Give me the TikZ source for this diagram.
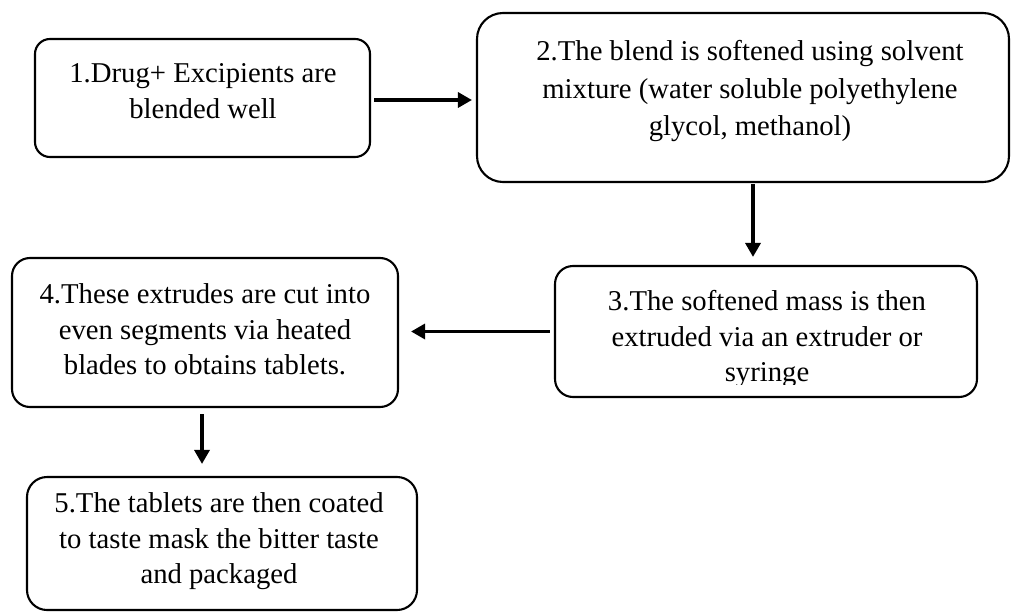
\documentclass[tikz,border=0pt]{standalone}
\usepackage{fontspec}
\setmainfont{Liberation Serif}
\usetikzlibrary{arrows.meta,calc}
\begin{document}
\begin{tikzpicture}[x=1pt,y=-1pt,
  box/.style={draw=black,line width=2.1pt,fill=none,inner sep=0pt,
    minimum width=#1},
  txt/.style={anchor=north,align=center,inner sep=0pt,
    font=\fontsize{28.7}{35.5}\selectfont},
  arr/.style={draw=black,line width=3.3pt,
    -{Triangle[length=14pt,width=15pt]}}
]
\useasboundingbox[fill=white] (0,0) rectangle (1011,615);
% boxes
\node[box=335pt,minimum height=118pt,rounded corners=15pt] (b1) at (202.5,98) {};
\node[box=532pt,minimum height=169pt,rounded corners=26pt] (b2) at (743,97.5) {};
\node[box=422pt,minimum height=131pt,rounded corners=18pt] (b3) at (766,331.5) {};
\node[box=386pt,minimum height=149pt,rounded corners=18pt] (b4) at (205,332.5) {};
\node[box=390pt,minimum height=133pt,rounded corners=20pt] (b5) at (222,543.5) {};
% texts
\node[txt] (t1) at (203,63.5) {1.Drug+ Excipients are\\blended well};
\node[txt,font=\fontsize{28.7}{37.5}\selectfont] (t2) at (750,40.5)
  {2.The blend is softened using solvent\\mixture (water soluble polyethylene\\glycol, methanol)};
\begin{scope}
\clip (0,0) rectangle (1011,384);
\node[txt] (t3) at (767,290.5) {3.The softened mass is then\\extruded via an extruder or\\syringe};
\end{scope}
\node[txt] (t4) at (205,283.5) {4.These extrudes are cut into\\even segments via heated\\blades to obtains tablets.};
\node[txt] (t5) at (219,492.5) {5.The tablets are then coated\\to taste mask the bitter taste\\and packaged};
% connectors
\draw[arr,shorten <=3pt,shorten >=4pt] ([yshift=-2pt]b1.east) -- ([yshift=-2pt]b1.east -| b2.west);
\draw[arr,shorten <=1pt,shorten >=8pt] ([xshift=10pt]b2.south) -- ([xshift=10pt]b2.south |- b3.north);
\draw[arr,shorten <=4pt,shorten >=12pt] (b3.west) -- (b3.west -| b4.east);
\draw[arr,shorten <=6pt,shorten >=12pt] ([xshift=-3pt]b4.south) -- ([xshift=-3pt]b4.south |- b5.north);
\end{tikzpicture}
\end{document}
